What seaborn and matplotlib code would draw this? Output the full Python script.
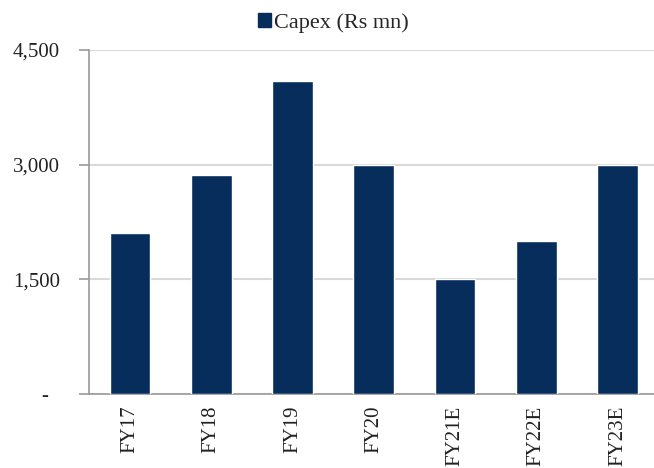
import matplotlib
matplotlib.use("Agg")
import matplotlib.pyplot as plt
import seaborn as sns
import pandas as pd
from matplotlib.patches import Patch
from matplotlib.ticker import FuncFormatter

years = ["FY17", "FY18", "FY19", "FY20", "FY21E", "FY22E", "FY23E"]
capex = [2100, 2870, 4100, 3000, 1500, 2000, 3000]
y_ticks = [0, 1500, 3000, 4500]
series_name = "Capex (Rs mn)"

bar_color = "#062d5c"
sns.set_style("white")
plt.rcParams["font.family"] = ["Liberation Serif", "DejaVu Serif"]

df = pd.DataFrame({"year": years, "capex": capex})

fig = plt.figure(figsize=(6.54, 4.68), dpi=100)
ax = fig.add_axes([0.136, 0.1588, 0.864, 0.7343])

sns.barplot(data=df, x="year", y="capex", color=bar_color, width=0.5,
            saturation=1, ax=ax, zorder=3)

ax.set_xlim(-0.505, 6.449)
ax.set_ylim(0, 4500)
ax.set_yticks(y_ticks)
# accounting-style labels: zero shown as a dash set in from the right
ax.yaxis.set_major_formatter(
    FuncFormatter(lambda v, p: "-\u2007" if v == 0 else f"{v:,.0f}"))
ax.grid(axis="y", color="#d9d9d9", linewidth=1.5, zorder=0)
ax.grid(axis="x", visible=False)

for s in ["top", "right"]:
    ax.spines[s].set_visible(False)
for s in ["left", "bottom"]:
    ax.spines[s].set_color("#9a9a9a")
    ax.spines[s].set_linewidth(1.2)

ax.tick_params(axis="y", which="major", left=True, length=7, width=1.2,
               color="#9a9a9a", pad=14, labelsize=15, labelcolor="#222222")
ax.tick_params(axis="x", bottom=False, pad=5, labelsize=15, labelcolor="#222222")
plt.setp(ax.get_xticklabels(), rotation=90, va="top", ha="center")
ax.set_xlabel("")
ax.set_ylabel("")

handle = Patch(facecolor=bar_color, edgecolor=bar_color)
fig.legend([handle], [series_name], loc="center", bbox_to_anchor=(0.51, 0.951),
           frameon=False, fontsize=16, handlelength=0.6, handleheight=0.6,
           handletextpad=0.15)

fig.savefig("out.png", dpi=100)
